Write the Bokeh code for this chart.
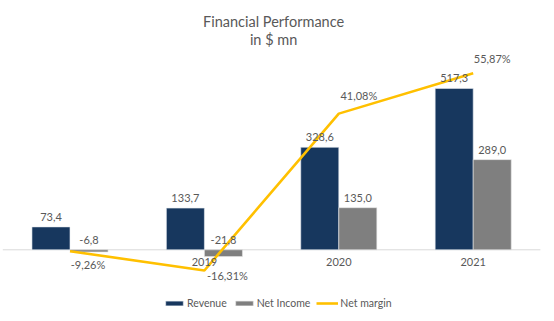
from bokeh.plotting import figure
from bokeh.models import Range1d, ColumnDataSource, Legend, LegendItem
from bokeh.core.properties import value
from bokeh.transform import dodge
from bokeh.embed import file_html
from bokeh.resources import INLINE

# ---- data ----
years = ["2018", "2019", "2020", "2021"]
revenue = [73.4, 133.7, 328.6, 517.3]
net_income = [-6.8, -21.8, 135.0, 289.0]
net_margin = [-9.26, -16.31, 41.08, 55.87]
year_label_shown = [False, True, True, True]   # the 2018 axis label is not visible in the source
title_lines = ["Financial Performance", "in $ mn"]

# ---- styling ----
NAVY = "#17375E"
GREY = "#7F7F7F"
GOLD = "#FFC000"
TXT = "#595959"
FONT = "Lato"

W, H = 554, 321
PX_CAT0, PX_STEP = 69.5, 134.4
PX_ZERO1, K1 = 249.3, 0.312
PX_ZERO2, K2 = 225.4, 2.733

x_start = -PX_CAT0 / PX_STEP
x_end = x_start + W / PX_STEP
y1_end = PX_ZERO1 / K1
y1_start = -(H - PX_ZERO1) / K1
y2_end = PX_ZERO2 / K2
y2_start = -(H - PX_ZERO2) / K2

idx = list(range(len(years)))
src = ColumnDataSource(dict(
    x=idx,
    year=[y if s else "" for y, s in zip(years, year_label_shown)],
    rev=revenue,
    ni=net_income,
    ni_lab_y=[max(v, 0) for v in net_income],
    nm=net_margin,
    rev_txt=[f"{v:.1f}".replace(".", ",") for v in revenue],
    ni_txt=[f"{v:.1f}".replace(".", ",") for v in net_income],
    nm_txt=[f"{v:.2f}%".replace(".", ",") for v in net_margin],
    nm_dx=[18, 23, 20, 19],
    nm_dy=[13, 5, -18, -15],
    zero=[0] * len(years),
))

p = figure(width=W, height=H, output_backend="svg", toolbar_location=None,
           x_axis_location=None, y_axis_location=None, min_border=0,
           x_range=Range1d(x_start, x_end), y_range=Range1d(y1_start, y1_end),
           outline_line_color=None, background_fill_color="white", title=None)
p.xgrid.visible = False
p.ygrid.visible = False
p.extra_y_ranges = {"pct": Range1d(y2_start, y2_end)}

p.segment(x0=-0.5, x1=len(years) - 0.5, y0=0, y1=0, line_color="#D9D9D9", line_width=1)

bw = 0.283
off = bw / 2
r_rev = p.vbar(x=dodge("x", -off, range=p.x_range), top="rev", bottom=0, width=bw,
               source=src, fill_color=NAVY, line_color="#E8ECF2", line_width=0.6)
r_ni = p.vbar(x=dodge("x", off, range=p.x_range), top="ni", bottom=0, width=bw,
              source=src, fill_color=GREY, line_color="#E5E5E5", line_width=0.6)
r_nm = p.line(x="x", y="nm", source=src, y_range_name="pct", line_color=GOLD, line_width=2.6)

LBL = "11px"
p.text(x=dodge("x", -off, range=p.x_range), y="rev", text="rev_txt", source=src,
       y_offset=-10, text_align="center", text_baseline="middle",
       text_font=value(FONT), text_font_size=LBL, text_color=TXT)
p.text(x=dodge("x", off, range=p.x_range), y="ni_lab_y", text="ni_txt", source=src,
       y_offset=-10, text_align="center", text_baseline="middle",
       text_font=value(FONT), text_font_size=LBL, text_color=TXT)
p.text(x="x", y="nm", text="nm_txt", source=src, y_range_name="pct",
       x_offset="nm_dx", y_offset="nm_dy", text_align="center", text_baseline="middle",
       text_font=value(FONT), text_font_size=LBL, text_color=TXT)
p.text(x="x", y="zero", text="year", source=src, y_offset=12,
       text_align="center", text_baseline="middle",
       text_font=value(FONT), text_font_size=LBL, text_color=TXT)

cx = (len(years) - 1) / 2
p.text(x=[cx, cx], y=[y1_end, y1_end], text=title_lines, x_offset=2, y_offset=[21, 39],
       text_align="center", text_baseline="middle",
       text_font=value(FONT), text_font_size="14.5px", text_color=TXT)

legend = Legend(items=[LegendItem(label="Revenue", renderers=[r_rev]),
                       LegendItem(label="Net Income", renderers=[r_ni]),
                       LegendItem(label="Net margin", renderers=[r_nm])],
                orientation="horizontal", location=(163, 12),
                glyph_width=22, glyph_height=6, label_standoff=2, spacing=6,
                padding=0, margin=0, border_line_color=None, background_fill_alpha=0,
                label_text_font=FONT, label_text_font_size="10.5px", label_text_color=TXT)
p.add_layout(legend, "center")

open("out.html", "w").write(file_html(p, INLINE))
